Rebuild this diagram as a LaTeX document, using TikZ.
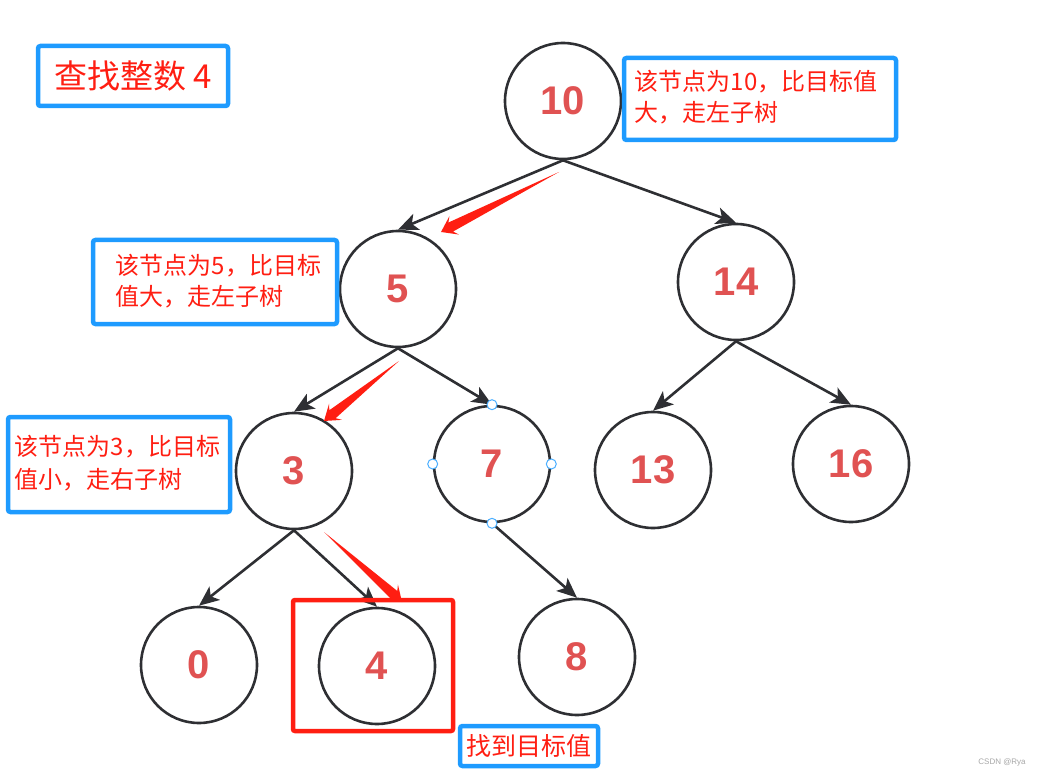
\documentclass[tikz,border=0pt]{standalone}
\usepackage{fontspec}
\newfontfamily\cjk{Noto Sans CJK SC}
\newfontfamily\numfont{Liberation Sans}
\usetikzlibrary{arrows.meta,calc}
\definecolor{boxblue}{HTML}{1E9BFF}
\definecolor{numred}{HTML}{E05252}
\definecolor{markred}{HTML}{FF1E12}
\definecolor{linegray}{HTML}{2E2F33}

\tikzset{
  treenode/.style={circle, draw=linegray, line width=2.6pt, minimum size=116pt, inner sep=0pt,
    text=numred, font=\numfont\bfseries\fontsize{40}{40}\selectfont},
  link/.style={draw=linegray, line width=2.6pt, -{Stealth[length=20pt,width=17pt,inset=5pt]}},
  bluebox/.style={draw=boxblue, line width=4.5pt, rounded corners=2.5pt, inner sep=0pt},
  note/.style={text=markred, font=\cjk\fontsize{24}{31}\selectfont, align=left, anchor=west, inner sep=0pt},
  handle/.style={circle, draw=boxblue!80, fill=white, line width=1pt, minimum size=10pt, inner sep=0pt},
}
% red hint arrow: tail, tip
\newcommand\hintarrow[2]{%
  \fill[markred] (#1) -- ($(#2)!12pt!25:(#1)$) -- ($(#2)!18pt!35:(#1)$) -- (#2)
    -- ($(#2)!18pt!-35:(#1)$) -- ($(#2)!12pt!-25:(#1)$) -- cycle;}

\begin{document}
\begin{tikzpicture}[x=1pt,y=-1pt]
\useasboundingbox (0,0) rectangle (1042,778);

% tree
\node[treenode] (n10) at (563,101) {10};
\node[treenode] (n5) at (398,289) {5};
\node[treenode] (n14) at (736,282) {14};
\node[treenode] (n3) at (294,471) {3};
\node[treenode] (n7) at (492,464) {7};
\node[treenode] (n13) at (653,470) {13};
\node[treenode] (n16) at (851,464) {16};
\node[treenode] (n0) at (199,665) {0};
\node[treenode] (n4) at (377,666) {4};
\node[treenode] (n8) at (577,657) {8};

\draw[link] (n10.south) -- (n5.north);
\draw[link] (n10.south) -- (n14.north);
\draw[link] (n5.south) -- (n3.north);
\draw[link] (n5.south) -- (n7.north);
\draw[link] (n14.south) -- (n13.north);
\draw[link] (n14.south) -- (n16.north);
\draw[link] (n3.south) -- (n0.north);
\draw[link] (n3.south) -- (n4.north);
\draw[link] (n7.south) -- (n8.north);

\foreach \a in {north,south,east,west}
  \node[handle] (h7\a) at (n7.\a) {};

% search path
\coordinate (t1) at (559,172); \coordinate (p1) at (441,232);
\coordinate (t2) at (399,361); \coordinate (p2) at (324,421);
\coordinate (t3) at (324,532); \coordinate (p3) at (402,602);
\hintarrow{t1}{p1}
\hintarrow{t2}{p2}
\hintarrow{t3}{p3}

\node[draw=markred, line width=4.5pt, rounded corners=2pt, minimum width=160pt, minimum height=131pt] (found) at (373,665.5) {};

% notes
\node[bluebox, minimum width=190pt, minimum height=60pt, text=markred,
  font=\cjk\fontsize{33}{33}\selectfont] (title) at (133,76) {查找整数 4};

\node[bluebox, minimum width=272pt, minimum height=82pt] (note10) at (760,99) {};
\node[note] (txt10) at ([xshift=13pt,yshift=2pt]note10.west) {该节点为10，比目标值\\大，走左子树};

\node[bluebox, minimum width=244pt, minimum height=84pt] (note5) at (215,282) {};
\node[note] (txt5) at ([xshift=25pt,yshift=1pt]note5.west) {该节点为5，比目标\\值大，走左子树};

\node[bluebox, minimum width=222pt, minimum height=95pt] (note3) at (119,464.5) {};
\node[note, font=\cjk\fontsize{24}{33}\selectfont] (txt3) at ([xshift=9pt,yshift=1.5pt]note3.west) {该节点为3，比目标\\值小，走右子树};

\node[bluebox, minimum width=138pt, minimum height=40pt, text=markred,
  font=\cjk\fontsize{25}{25}\selectfont] (target) at (529,746) {找到目标值};

\node[text=gray!70, font=\numfont\fontsize{8}{8}\selectfont] (mark) at (1002,762) {CSDN @Rya};
\end{tikzpicture}
\end{document}
